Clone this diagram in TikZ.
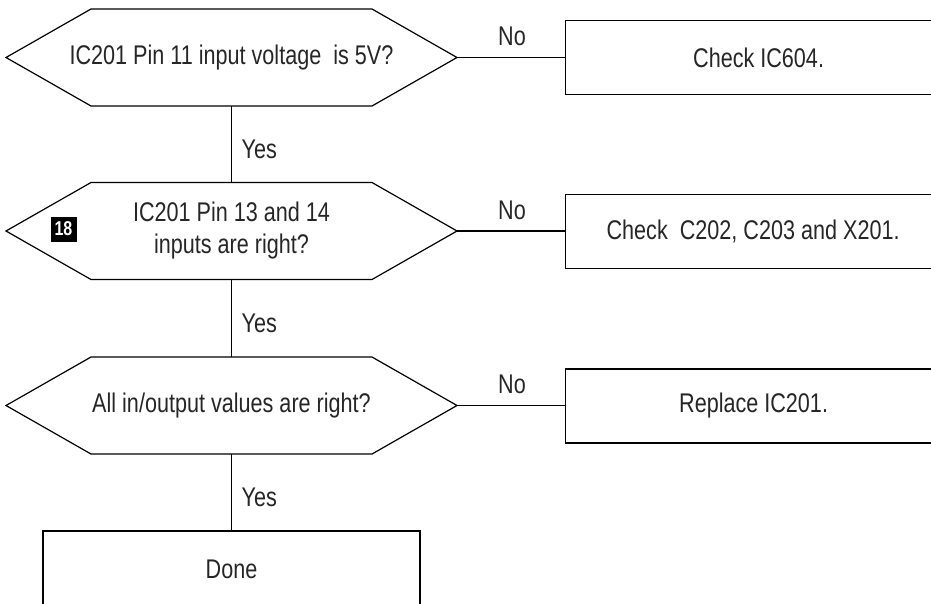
\documentclass[tikz,border=0pt]{standalone}
\usepackage{fontspec}
\setmainfont[FakeStretch=0.8]{Liberation Sans}
\begin{document}
\begin{tikzpicture}[x=1pt,y=-1pt, line width=1.2pt,
  txt/.style={font=\fontsize{27}{32}\selectfont, inner sep=0pt, text=black!85},
  hexcore/.style={txt, align=center},
  box/.style={txt, draw, minimum height=74pt, anchor=west},
  lbl/.style={txt},
  badge/.style={fill=black, text=white, inner sep=0pt, minimum width=26pt, minimum height=25pt,
    font=\bfseries\fontsize{20}{20}\selectfont}]
\useasboundingbox (0,0) rectangle (931,603);
\clip (0,0) rectangle (931,603);
% decision hexagons (text cores)
\node[hexcore] (h1) at (231.5,57.5) {IC201 Pin 11 input voltage\ \ is 5V?};
\node[hexcore] (h2) at (231.5,231) {IC201 Pin 13 and 14\\inputs are right?};
\node[hexcore] (h3) at (231.5,405.5) {All in/output values are right?};
\foreach \h in {h1,h2,h3} {
  \coordinate (\h t) at ([yshift=48.5pt]\h.center);
  \coordinate (\h b) at ([yshift=-48.5pt]\h.center);
  \coordinate (\h r) at ([xshift=225.5pt]\h.center);
  \draw ([shift={(-140.5pt,-48.5pt)}]\h.center) -- ([shift={(140.5pt,-48.5pt)}]\h.center)
     -- (\h r) -- ([shift={(140.5pt,48.5pt)}]\h.center)
     -- ([shift={(-140.5pt,48.5pt)}]\h.center) -- ([xshift=-225.5pt]\h.center) -- cycle;
}
\node[badge] (badge) at (63.5,229) {18};
% action boxes
\node[box, minimum width=386pt] (b1) at (565,57.5) {Check IC604.};
\node[box, minimum width=375pt] (b2) at (565,231.5) {Check\ \ C202, C203 and X201.};
\node[box, minimum width=376pt] (b3) at (565,406) {Replace IC201.};
\node[txt, draw, minimum width=377pt, minimum height=76pt] (done) at (231.5,569) {Done};
% connectors
\draw (h1r) -- (h1r -| b1.west);
\draw (h2r) -- (h2r -| b2.west);
\draw (h3r) -- (h3r -| b3.west);
\draw (h1b) -- (h2t);
\draw (h2b) -- (h3t);
\draw (h3b) -- (done.north);
% labels
\node[lbl] (no1) at (512,36) {No};
\node[lbl] (no2) at (512,210) {No};
\node[lbl] (no3) at (512,384) {No};
\node[lbl, anchor=west] (yes1) at (241,149) {Yes};
\node[lbl, anchor=west] (yes2) at (241,323) {Yes};
\node[lbl, anchor=west] (yes3) at (241,497) {Yes};
\end{tikzpicture}
\end{document}
